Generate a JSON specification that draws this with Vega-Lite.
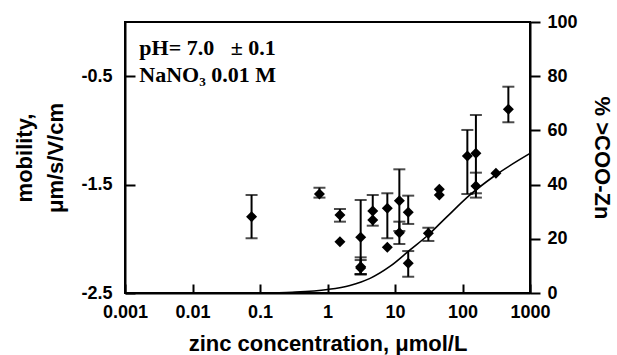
{
  "$schema": "https://vega.github.io/schema/vega-lite/v6.json",
  "width": 405,
  "height": 271,
  "autosize": {"type": "none"},
  "padding": {"left": 125, "top": 22, "right": 87, "bottom": 62},
  "background": "white",
  "config": {
    "view": {"stroke": "black", "strokeWidth": 2},
    "font": "Liberation Sans",
    "axis": {
      "grid": false,
      "domainColor": "black",
      "domainWidth": 2,
      "tickColor": "black",
      "tickWidth": 2,
      "labelColor": "black",
      "labelFont": "Liberation Sans",
      "labelFontWeight": "bold",
      "labelFontSize": 18,
      "titleColor": "black",
      "titleFont": "Liberation Sans",
      "titleFontWeight": "bold",
      "titleFontSize": 22,
      "labelOverlap": false,
      "labelFlush": false
    }
  },
  "datasets": {
    "pts": [
      {"c": 0.075, "mob": -1.796, "lo": -1.995, "hi": -1.596},
      {"c": 0.76, "mob": -1.587, "lo": -1.62, "hi": -1.529},
      {"c": 1.53, "mob": -1.78, "lo": -1.842, "hi": -1.725},
      {"c": 1.53, "mob": -2.027, "lo": null, "hi": null},
      {"c": 3.1, "mob": -1.986, "lo": -2.327, "hi": -1.642},
      {"c": 3.1, "mob": -2.257, "lo": -2.327, "hi": -2.171},
      {"c": 3.1, "mob": -2.27, "lo": -2.327, "hi": -2.196},
      {"c": 4.68, "mob": -1.744, "lo": -1.879, "hi": -1.596},
      {"c": 4.68, "mob": -1.827, "lo": null, "hi": null},
      {"c": 7.7, "mob": -1.719, "lo": -1.995, "hi": -1.58},
      {"c": 7.7, "mob": -2.078, "lo": null, "hi": null},
      {"c": 11.6, "mob": -1.649, "lo": -1.928, "hi": -1.359},
      {"c": 11.6, "mob": -1.944, "lo": -2.048, "hi": -1.842},
      {"c": 15.7, "mob": -1.755, "lo": -1.863, "hi": -1.602},
      {"c": 15.7, "mob": -2.226, "lo": -2.35, "hi": -2.113},
      {"c": 31.2, "mob": -1.949, "lo": -2.02, "hi": -1.898},
      {"c": 45.3, "mob": -1.543, "lo": null, "hi": null},
      {"c": 45.3, "mob": -1.596, "lo": null, "hi": null},
      {"c": 118, "mob": -1.236, "lo": -1.587, "hi": -0.996},
      {"c": 158, "mob": -1.211, "lo": -1.58, "hi": -0.858},
      {"c": 158, "mob": -1.513, "lo": -1.62, "hi": -1.39},
      {"c": 313, "mob": -1.396, "lo": null, "hi": null},
      {"c": 478, "mob": -0.805, "lo": -0.925, "hi": -0.597}
    ],
    "curve": [
      {"c": 0.1, "pct": 0},
      {"c": 0.3, "pct": 0.3},
      {"c": 1, "pct": 1.3},
      {"c": 2.15, "pct": 2.8},
      {"c": 4.27, "pct": 5.4},
      {"c": 8.4, "pct": 9.8},
      {"c": 16.7, "pct": 15.9},
      {"c": 31, "pct": 21.4},
      {"c": 58, "pct": 28},
      {"c": 129, "pct": 36.2},
      {"c": 286, "pct": 42.9},
      {"c": 1000, "pct": 51.5}
    ],
    "notes": [
      {"c": 0.00163, "mob": -0.304, "label": "pH= 7.0\u00a0\u00a0 ± 0.1"},
      {"c": 0.00163, "mob": -0.551, "label": "NaNO₃ 0.01 M"}
    ]
  },
  "layer": [
    {
      "layer": [
        {
          "data": {"name": "pts"},
          "transform": [{"filter": "isValid(datum.lo)"}],
          "mark": {"type": "rule", "color": "black", "strokeWidth": 2},
          "encoding": {
            "x": {
              "field": "c", "type": "quantitative",
              "scale": {"type": "log", "domain": [0.001, 1000], "nice": false},
              "axis": {
                "values": [0.001, 0.01, 0.1, 1, 10, 100, 1000],
                "format": "~g",
                "tickSize": -9,
                "labelPadding": 19,
                "title": "zinc concentration, μmol/L",
                "titlePadding": 12
              }
            },
            "y": {
              "field": "lo", "type": "quantitative",
              "scale": {"domain": [-2.5, 0], "nice": false, "zero": false},
              "axis": {
                "values": [-0.5, -1.5, -2.5],
                "labelExpr": "'-' + format(abs(datum.value), '.1f')",
                "tickSize": -10,
                "labelPadding": 23,
                "title": ["mobility,", "μm/s/V/cm"],
                "titleLineHeight": 31,
                "titlePadding": 13
              }
            },
            "y2": {"field": "hi"}
          }
        },
        {
          "data": {"name": "pts"},
          "transform": [{"filter": "isValid(datum.lo)"}],
          "mark": {"type": "tick", "orient": "horizontal", "color": "black", "size": 12, "thickness": 2},
          "encoding": {
            "x": {"field": "c", "type": "quantitative", "scale": {"type": "log", "domain": [0.001, 1000], "nice": false}},
            "y": {"field": "lo", "type": "quantitative", "scale": {"domain": [-2.5, 0], "nice": false, "zero": false}}
          }
        },
        {
          "data": {"name": "pts"},
          "transform": [{"filter": "isValid(datum.hi)"}],
          "mark": {"type": "tick", "orient": "horizontal", "color": "black", "size": 12, "thickness": 2},
          "encoding": {
            "x": {"field": "c", "type": "quantitative", "scale": {"type": "log", "domain": [0.001, 1000], "nice": false}},
            "y": {"field": "hi", "type": "quantitative", "scale": {"domain": [-2.5, 0], "nice": false, "zero": false}}
          }
        },
        {
          "data": {"name": "pts"},
          "mark": {"type": "point", "shape": "diamond", "filled": true, "color": "black", "size": 121, "opacity": 1},
          "encoding": {
            "x": {"field": "c", "type": "quantitative", "scale": {"type": "log", "domain": [0.001, 1000], "nice": false}},
            "y": {"field": "mob", "type": "quantitative", "scale": {"domain": [-2.5, 0], "nice": false, "zero": false}}
          }
        },
        {
          "data": {"name": "notes"},
          "mark": {"type": "text", "align": "left", "baseline": "alphabetic", "font": "Liberation Serif", "fontWeight": "bold", "fontSize": 22, "color": "black"},
          "encoding": {
            "x": {"field": "c", "type": "quantitative", "scale": {"type": "log", "domain": [0.001, 1000], "nice": false}},
            "y": {"field": "mob", "type": "quantitative", "scale": {"domain": [-2.5, 0], "nice": false, "zero": false}},
            "text": {"field": "label"}
          }
        }
      ]
    },
    {
      "data": {"name": "curve"},
      "mark": {"type": "line", "color": "black", "strokeWidth": 1.6, "interpolate": "monotone"},
      "encoding": {
        "x": {"field": "c", "type": "quantitative", "scale": {"type": "log", "domain": [0.001, 1000], "nice": false}},
        "y": {
          "field": "pct", "type": "quantitative",
          "scale": {"domain": [0, 100], "nice": false},
          "axis": {
            "orient": "right",
            "values": [0, 20, 40, 60, 80, 100],
            "tickSize": 10,
            "labelPadding": 7,
            "title": "% >COO-Zn",
            "titlePadding": 12
          }
        }
      }
    }
  ],
  "resolve": {"scale": {"y": "independent"}}
}
